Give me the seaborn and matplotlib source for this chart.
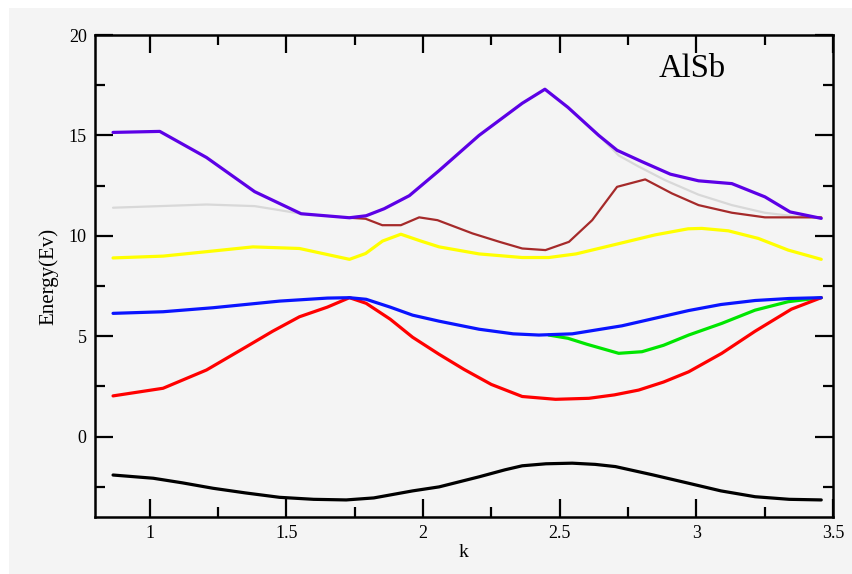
import matplotlib
matplotlib.use("Agg")
import matplotlib.pyplot as plt
from matplotlib.patches import Rectangle
from matplotlib.ticker import MultipleLocator
import seaborn as sns

# Band energies E(k) for AlSb, one pair of arrays per band
k_purple = [0.866, 1.037, 1.208, 1.384, 1.554, 1.731, 1.792, 1.858, 1.95, 2.059, 2.205, 2.363, 2.446,
            2.53, 2.643, 2.71, 2.80, 2.905, 3.008, 3.13, 3.251, 3.343, 3.457]
e_purple = [15.15, 15.2, 13.9, 12.2, 11.1, 10.9, 11.0, 11.35, 12.0, 13.25, 15.0, 16.6, 17.3,
            16.4, 15.0, 14.26, 13.7, 13.07, 12.74, 12.6, 11.94, 11.19, 10.87]

k_gray = [0.866, 1.037, 1.208, 1.384, 1.475, 1.554, 1.731, 1.792, 1.858, 1.95, 2.059, 2.205, 2.363,
          2.446, 2.53, 2.643, 2.716, 2.789, 2.886, 3.008, 3.13, 3.25, 3.373, 3.457]
e_gray = [11.4, 11.48, 11.56, 11.48, 11.28, 11.1, 10.9, 11.0, 11.35, 12.0, 13.25, 15.0, 16.6,
          17.3, 16.4, 15.0, 14.0, 13.45, 12.77, 12.05, 11.53, 11.15, 10.95, 10.9]

k_brown = [1.731, 1.79, 1.851, 1.919, 1.986, 2.053, 2.181, 2.28, 2.363, 2.448, 2.534, 2.619,
           2.71, 2.813, 2.911, 3.008, 3.13, 3.251, 3.457]
e_brown = [10.9, 10.85, 10.53, 10.53, 10.92, 10.78, 10.12, 9.7, 9.37, 9.29, 9.7, 10.78,
           12.44, 12.81, 12.11, 11.53, 11.15, 10.92, 10.92]

k_yellow = [0.866, 1.049, 1.2, 1.378, 1.548, 1.731, 1.79, 1.852, 1.919, 1.99, 2.059, 2.205, 2.363,
            2.46, 2.56, 2.667, 2.85, 2.97, 3.02, 3.117, 3.227, 3.336, 3.457]
e_yellow = [8.9, 8.99, 9.2, 9.45, 9.37, 8.83, 9.12, 9.74, 10.08, 9.75, 9.45, 9.1, 8.92,
            8.92, 9.1, 9.45, 10.05, 10.35, 10.37, 10.25, 9.87, 9.29, 8.83]

k_blue = [0.866, 1.049, 1.232, 1.475, 1.65, 1.731, 1.792, 1.88, 1.962, 2.059, 2.205, 2.33, 2.424,
          2.546, 2.728, 2.85, 2.972, 3.09, 3.215, 3.34, 3.457]
e_blue = [6.14, 6.22, 6.42, 6.75, 6.9, 6.92, 6.84, 6.45, 6.05, 5.75, 5.35, 5.12, 5.06,
          5.12, 5.52, 5.9, 6.28, 6.58, 6.78, 6.88, 6.92]

k_green = [2.46, 2.53, 2.60, 2.716, 2.801, 2.88, 2.972, 3.093, 3.215, 3.336, 3.457]
e_green = [5.06, 4.9, 4.6, 4.15, 4.23, 4.55, 5.06, 5.64, 6.3, 6.72, 6.92]

k_red = [0.866, 1.049, 1.208, 1.354, 1.45, 1.548, 1.65, 1.731, 1.792, 1.88, 1.962, 2.059, 2.15,
         2.25, 2.363, 2.485, 2.607, 2.70, 2.789, 2.88, 2.972, 3.093, 3.215, 3.348, 3.457]
e_red = [2.03, 2.41, 3.32, 4.48, 5.25, 5.97, 6.45, 6.92, 6.64, 5.85, 4.95, 4.1, 3.35,
         2.6, 2.0, 1.86, 1.91, 2.08, 2.32, 2.72, 3.23, 4.15, 5.25, 6.35, 6.92]

k_black = [0.866, 1.013, 1.12, 1.232, 1.35, 1.475, 1.6, 1.719, 1.82, 1.962, 2.059, 2.205, 2.3,
           2.363, 2.45, 2.546, 2.63, 2.704, 2.84, 2.972, 3.09, 3.215, 3.34, 3.457]
e_black = [-1.91, -2.07, -2.3, -2.57, -2.8, -3.02, -3.12, -3.15, -3.05, -2.7, -2.5, -2.0, -1.65,
           -1.45, -1.35, -1.32, -1.38, -1.49, -1.9, -2.32, -2.7, -2.99, -3.12, -3.15]

sns.set_theme(style="ticks")
plt.rcParams["font.family"] = ["Liberation Serif", "DejaVu Serif"]
plt.rcParams["text.color"] = "black"
plt.rcParams["axes.labelcolor"] = "black"

bg = "#f4f4f4"
fig = plt.figure(figsize=(8.52, 5.74), dpi=100, facecolor="white")
fig.patches.append(Rectangle((9 / 852, 0), 1, 1 - 8 / 574, transform=fig.transFigure,
                             facecolor=bg, edgecolor="none", zorder=-10))
ax = fig.add_axes([95 / 852, 1 - 517 / 574, (833 - 95) / 852, (517 - 35) / 574])
ax.set_facecolor(bg)

bands = [
    (k_gray, e_gray, "#d8d8d8", 1.6),
    (k_brown, e_brown, "#a52a2a", 1.6),
    (k_purple, e_purple, "#5c00e6", 2.3),
    (k_yellow, e_yellow, "#ffff00", 2.3),
    (k_green, e_green, "#00e600", 2.3),
    (k_red, e_red, "#ff0000", 2.3),
    (k_blue, e_blue, "#0a14ff", 2.3),
    (k_black, e_black, "#000000", 2.3),
]
for kk, ee, col, lw in bands:
    sns.lineplot(x=kk, y=ee, ax=ax, color=col, lw=lw, sort=False, estimator=None)

ax.set_xlim(0.8, 3.5)
ax.set_ylim(-4, 20)
ax.xaxis.set_major_locator(MultipleLocator(0.5))
ax.xaxis.set_minor_locator(MultipleLocator(0.25))
ax.yaxis.set_major_locator(MultipleLocator(5))
ax.yaxis.set_minor_locator(MultipleLocator(2.5))
ax.set_xticks([1, 1.5, 2, 2.5, 3, 3.5])
ax.set_xticklabels(["1", "1.5", "2", "2.5", "3", "3.5"])

for s in ax.spines.values():
    s.set_visible(True)
    s.set_linewidth(1.8)
    s.set_color("black")
ax.tick_params(which="both", direction="in", top=True, right=True, width=1.6,
               labelsize=13, colors="black", pad=6)
ax.tick_params(which="major", length=13)
ax.tick_params(which="minor", length=7)

ax.set_xlabel("k", fontsize=14, labelpad=1)
ax.set_ylabel("Energy(Ev)", fontsize=15, labelpad=7)
ax.text(0.809, 0.913, "AlSb", transform=ax.transAxes, fontsize=23.5,
        ha="center", va="baseline", color="black")

fig.savefig("out.png", dpi=100, facecolor=fig.get_facecolor())
